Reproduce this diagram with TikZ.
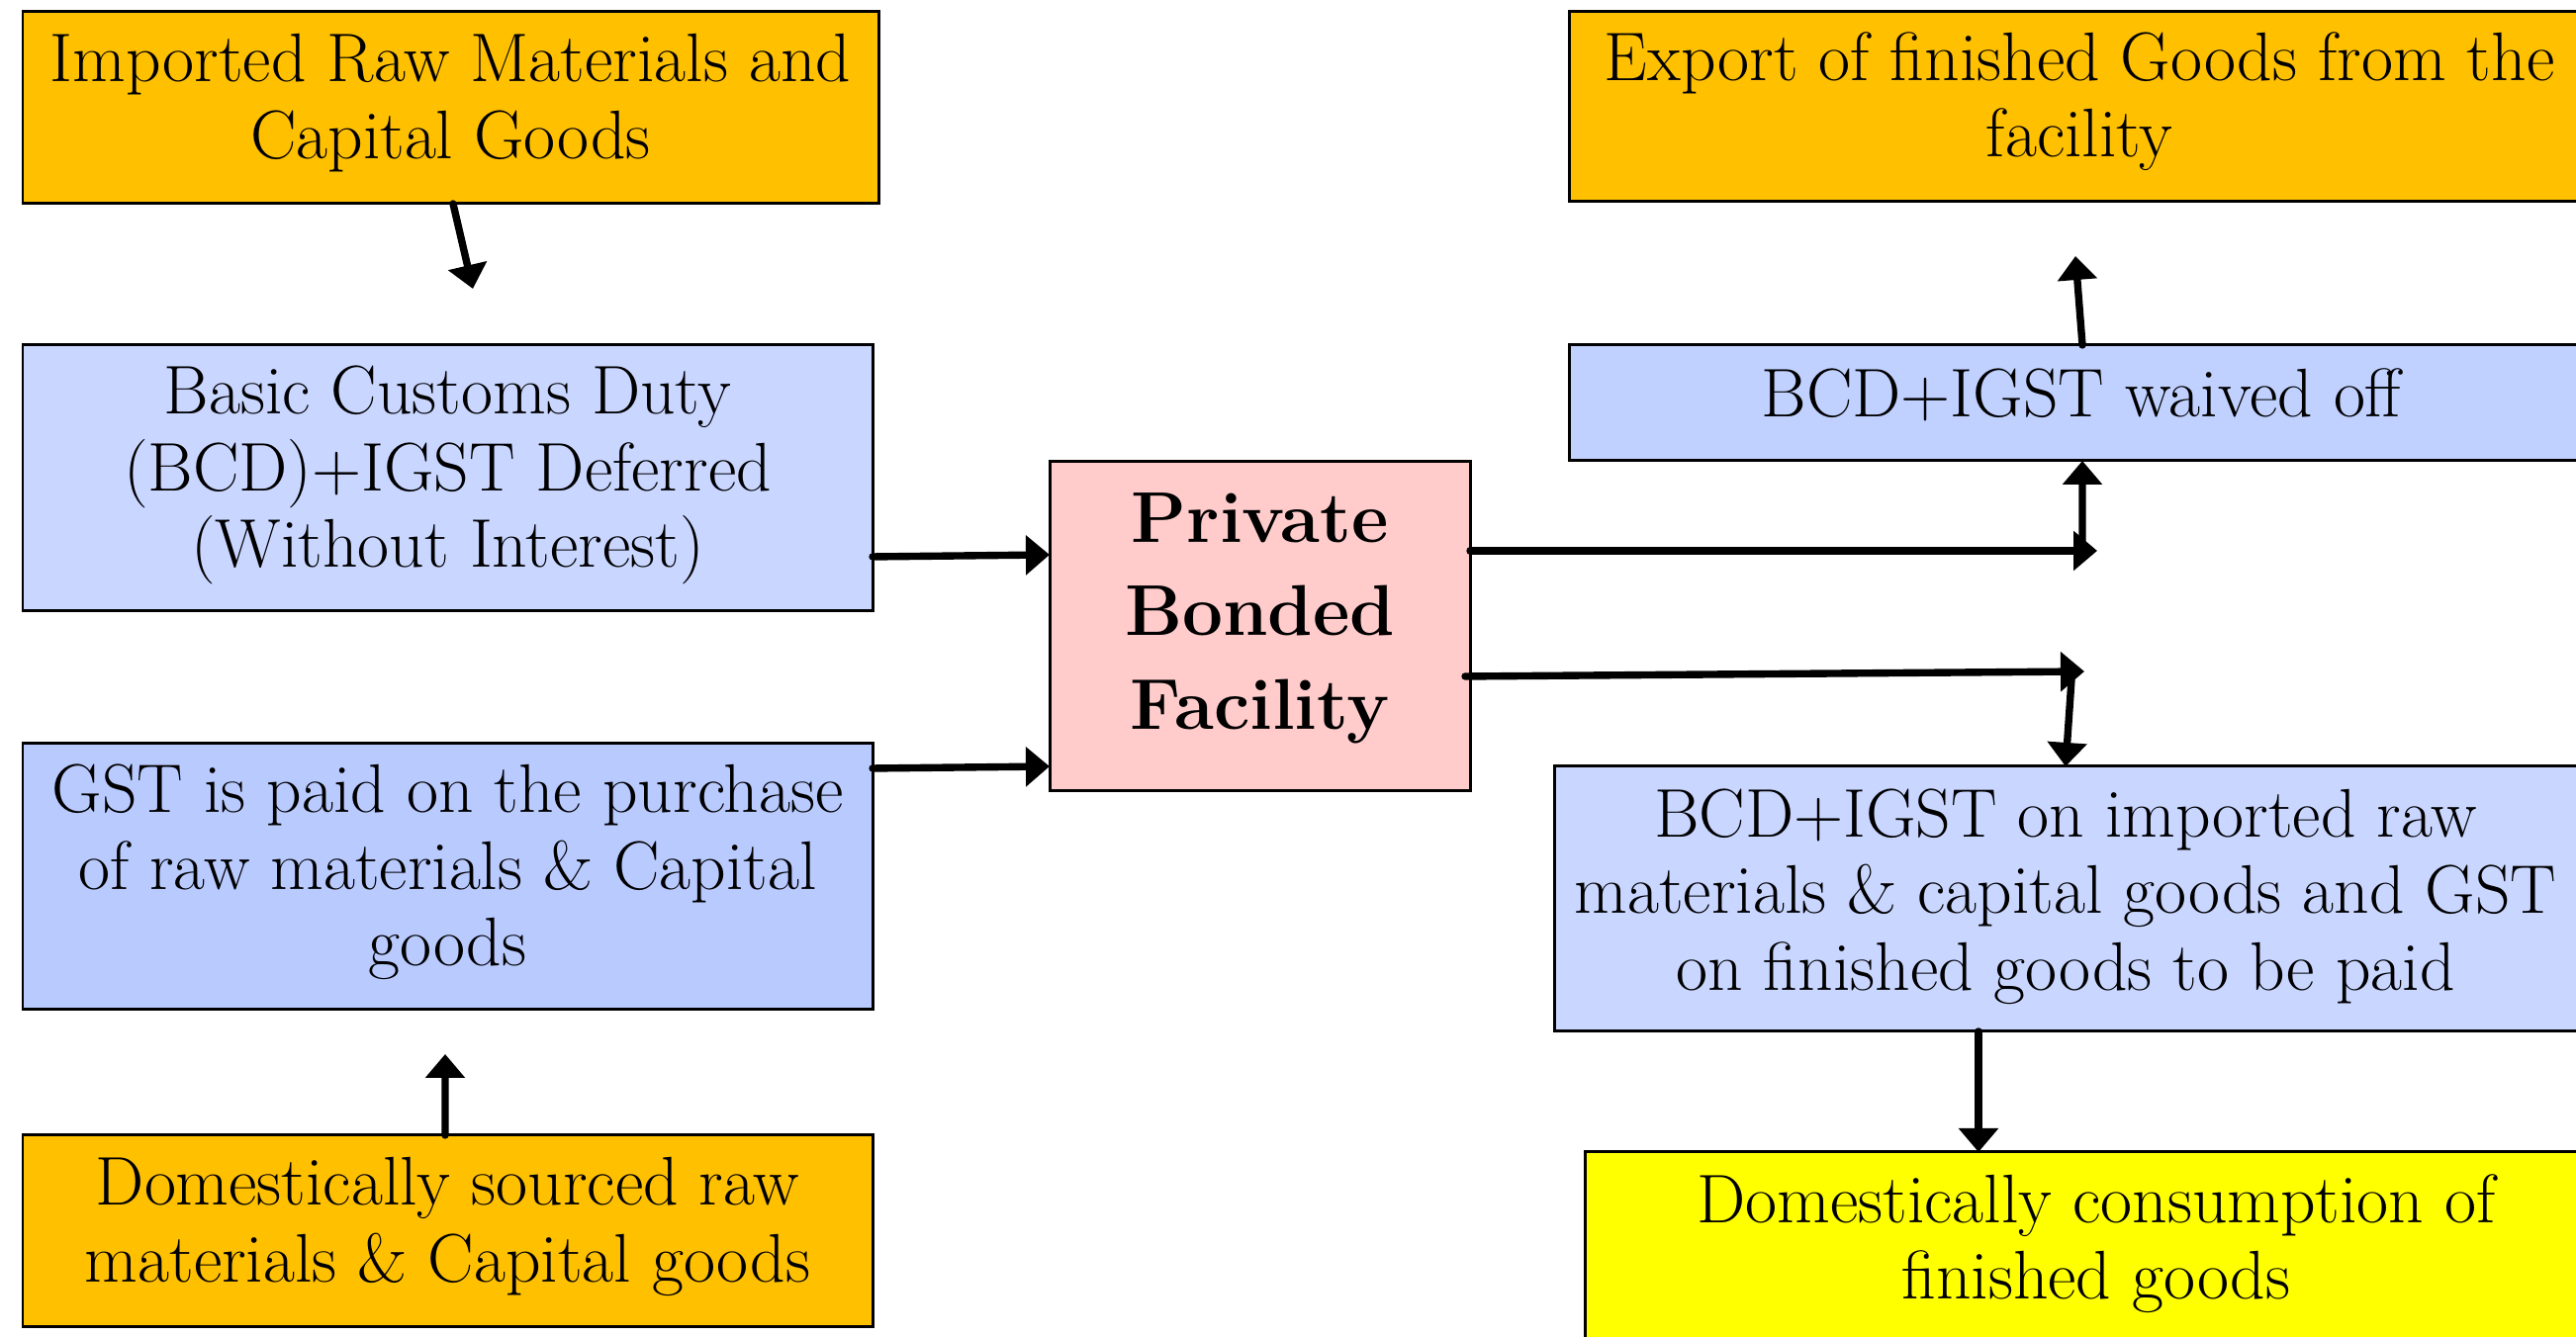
\documentclass[tikz,border=0pt]{standalone}
\usepackage[table]{xcolor}
\usepackage{amsmath}
\usepackage{tikz}
\usetikzlibrary{arrows.meta}

\definecolor{boxorange}{HTML}{FFC000}
\definecolor{boxblue}{HTML}{C9D6FF}
\definecolor{boxbluedeep}{HTML}{B9CAFF}
\definecolor{boxbluemid}{HTML}{C1D1FF}
\definecolor{boxpink}{HTML}{FFCBCB}
\definecolor{boxyellow}{HTML}{FFFF00}

\newcommand{\lowpad}[1]{\rule[-#1]{0pt}{#1}}

\tikzset{
	stagebox/.style={draw=black, line width=0.85pt, inner sep=0pt, outer sep=0pt, align=center, font=\fontsize{19.8}{22}\selectfont},
	flow/.style={line width=2.1pt, line cap=round, -{Triangle[length=0.24cm, width=0.39cm]}},
}

\begin{document}
\begin{tikzpicture}
				\useasboundingbox (0, 0) rectangle (26.04, 13.52);
				
				% left column
				\node[stagebox, fill=boxorange, minimum width=8.65cm, minimum height=1.94cm] (imp) at (4.555, 12.43) {Imported Raw Materials and\\ Capital Goods\lowpad{0.23cm}};
				\node[stagebox, fill=boxblue, minimum width=8.59cm, minimum height=2.69cm] (bcd) at (4.525, 8.685) {Basic Customs Duty\\ (BCD)+IGST Deferred\\ (Without Interest)\lowpad{0.23cm}};
				\node[stagebox, fill=boxbluedeep, minimum width=8.59cm, minimum height=2.69cm] (gst) at (4.525, 4.655) {GST is paid on the purchase\\ of raw materials \& Capital\\ goods\lowpad{0.23cm}};
				\node[stagebox, fill=boxorange, minimum width=8.59cm, minimum height=1.94cm] (dom) at (4.525, 1.07) {Domestically sourced raw\\ materials \& Capital goods\lowpad{0.23cm}};
				
				% facility
				\node[stagebox, fill=boxpink, minimum width=4.25cm, minimum height=3.33cm, font=\fontsize{20.7}{27}\selectfont\bfseries] (pbf) at (12.735, 7.185) {Private\\ Bonded\\ Facility\lowpad{0.31cm}};
				
				% right column
				\node[stagebox, fill=boxorange, minimum width=10.32cm, minimum height=1.92cm] (exp) at (21.02, 12.44) {Export of finished Goods from the\\ facility\lowpad{0.25cm}};
				\node[stagebox, fill=boxbluemid, minimum width=10.36cm, minimum height=1.17cm] (waive) at (21.04, 9.445) {\raisebox{0.2cm}{BCD+IGST waived off}};
				\node[stagebox, fill=boxblue, minimum width=10.34cm, minimum height=2.68cm] (pay) at (20.88, 4.43) {BCD+IGST on imported raw\\ materials \& capital goods and GST\\ on finished goods to be paid\lowpad{0.19cm}};
				\node[stagebox, fill=boxyellow, minimum width=10.34cm, minimum height=1.95cm] (cons) at (21.19, 0.895) {Domestically consumption of\\ finished goods\lowpad{0.24cm}};
				
				% free ends
				\coordinate (impend) at (4.78, 10.60);
				\coordinate (domend) at (4.50, 2.86);
				\coordinate (upperend) at (21.20, 7.95);
				\coordinate (upperturn) at (21.05, 8.04);
				\coordinate (expend) at (20.98, 10.93);
				\coordinate (lowerend) at (21.07, 6.73);
				\coordinate (lowerturn) at (20.94, 6.65);
				
				% arrows
				\draw[flow] ([xshift=0.025cm]imp.south) -- (impend);
				\draw[flow] ([yshift=-0.795cm]bcd.east) -- ([yshift=0.725cm]pbf.west);
				\draw[flow] ([yshift=1.095cm]gst.east) -- ([yshift=-1.415cm]pbf.west);
				\draw[flow] ([xshift=-0.025cm]dom.north) -- (domend);
				\draw[flow] ([yshift=0.765cm]pbf.east) -- (upperend);
				\draw[flow] (upperturn) -- ([xshift=0.01cm]waive.south);
				\draw[flow] ([xshift=0.01cm]waive.north) -- (expend);
				\draw[flow] ([xshift=-0.05cm, yshift=-0.505cm]pbf.east) -- (lowerend);
				\draw[flow] (lowerturn) -- (pay.north);
				\draw[flow] ([xshift=-0.88cm]pay.south) -- ([xshift=-1.19cm]cons.north);
			\end{tikzpicture}
\end{document}
